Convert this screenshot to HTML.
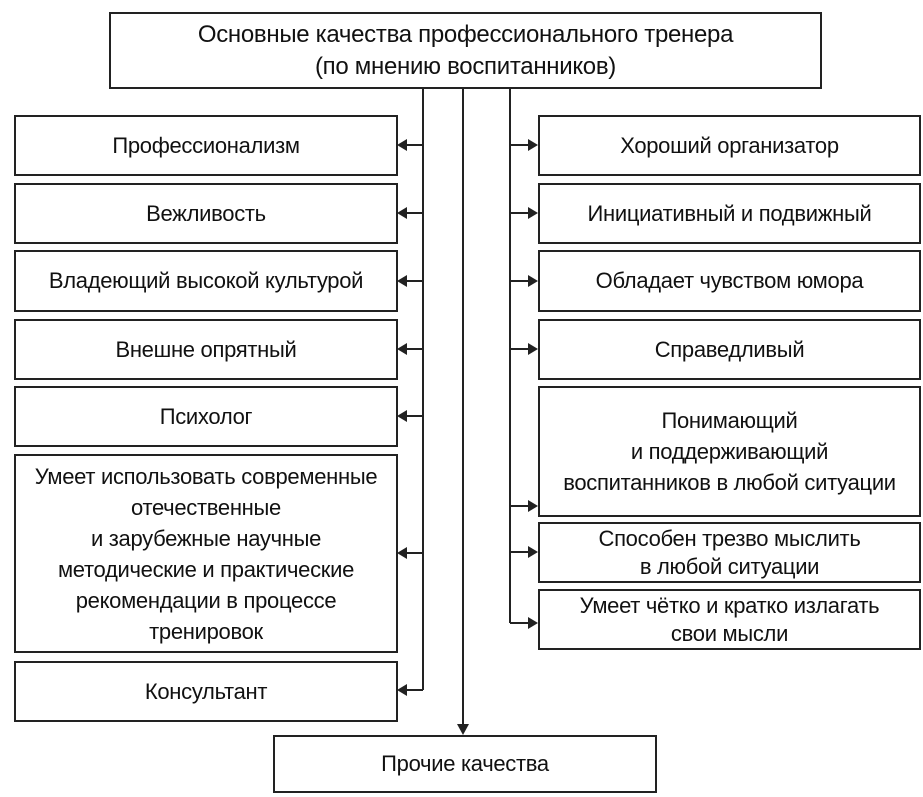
<!DOCTYPE html>
<html><head><meta charset="utf-8"><style>
body{margin:0;width:923px;height:797px;background:#fff;position:relative;font-family:"Liberation Sans",sans-serif;color:#111;overflow:hidden}
.b{position:absolute;box-sizing:border-box;border:2px solid #222;display:flex;align-items:center;justify-content:center;text-align:center;font-size:22px;line-height:28px;letter-spacing:-0.3px;white-space:nowrap}
svg{position:absolute;left:0;top:0}
</style></head><body>
<svg width="923" height="797">
<g stroke="#222" stroke-width="2" fill="none">
<line x1="423" y1="88" x2="423" y2="690"/>
<line x1="510" y1="88" x2="510" y2="623"/>
<line x1="463" y1="88" x2="463" y2="728"/>
<line x1="405" y1="145" x2="423" y2="145"/>
<line x1="405" y1="213" x2="423" y2="213"/>
<line x1="405" y1="281" x2="423" y2="281"/>
<line x1="405" y1="349" x2="423" y2="349"/>
<line x1="405" y1="416" x2="423" y2="416"/>
<line x1="405" y1="553" x2="423" y2="553"/>
<line x1="405" y1="690" x2="423" y2="690"/>
<line x1="510" y1="145" x2="530" y2="145"/>
<line x1="510" y1="213" x2="530" y2="213"/>
<line x1="510" y1="281" x2="530" y2="281"/>
<line x1="510" y1="349" x2="530" y2="349"/>
<line x1="510" y1="506" x2="530" y2="506"/>
<line x1="510" y1="552" x2="530" y2="552"/>
<line x1="510" y1="623" x2="530" y2="623"/>
</g>
<g fill="#222">
<path d="M397 145l10-6v12z"/><path d="M397 213l10-6v12z"/><path d="M397 281l10-6v12z"/><path d="M397 349l10-6v12z"/><path d="M397 416l10-6v12z"/><path d="M397 553l10-6v12z"/><path d="M397 690l10-6v12z"/>
<path d="M538 145l-10-6v12z"/><path d="M538 213l-10-6v12z"/><path d="M538 281l-10-6v12z"/><path d="M538 349l-10-6v12z"/><path d="M538 506l-10-6v12z"/><path d="M538 552l-10-6v12z"/><path d="M538 623l-10-6v12z"/>
<path d="M463 735l-6-11h12z"/>
</g>
</svg>
<div class="b" style="left:109px;top:12px;width:713px;height:77px;font-size:24px;line-height:32px">Основные качества профессионального тренера<br>(по мнению воспитанников)</div>
<div class="b" style="left:14px;top:115px;width:384px;height:61px">Профессионализм</div>
<div class="b" style="left:14px;top:183px;width:384px;height:61px">Вежливость</div>
<div class="b" style="left:14px;top:250px;width:384px;height:62px">Владеющий высокой культурой</div>
<div class="b" style="left:14px;top:319px;width:384px;height:61px">Внешне опрятный</div>
<div class="b" style="left:14px;top:386px;width:384px;height:61px">Психолог</div>
<div class="b" style="left:14px;top:454px;width:384px;height:199px;line-height:31px">Умеет использовать современные<br>отечественные<br>и зарубежные научные<br>методические и практические<br>рекомендации в процессе<br>тренировок</div>
<div class="b" style="left:14px;top:661px;width:384px;height:61px">Консультант</div>
<div class="b" style="left:538px;top:115px;width:383px;height:61px">Хороший организатор</div>
<div class="b" style="left:538px;top:183px;width:383px;height:61px">Инициативный и подвижный</div>
<div class="b" style="left:538px;top:250px;width:383px;height:62px">Обладает чувством юмора</div>
<div class="b" style="left:538px;top:319px;width:383px;height:61px">Справедливый</div>
<div class="b" style="left:538px;top:386px;width:383px;height:131px;line-height:31px">Понимающий<br>и поддерживающий<br>воспитанников в любой ситуации</div>
<div class="b" style="left:538px;top:522px;width:383px;height:61px">Способен трезво мыслить<br>в любой ситуации</div>
<div class="b" style="left:538px;top:589px;width:383px;height:61px">Умеет чётко и кратко излагать<br>свои мысли</div>
<div class="b" style="left:273px;top:735px;width:384px;height:58px">Прочие качества</div>
</body></html>
